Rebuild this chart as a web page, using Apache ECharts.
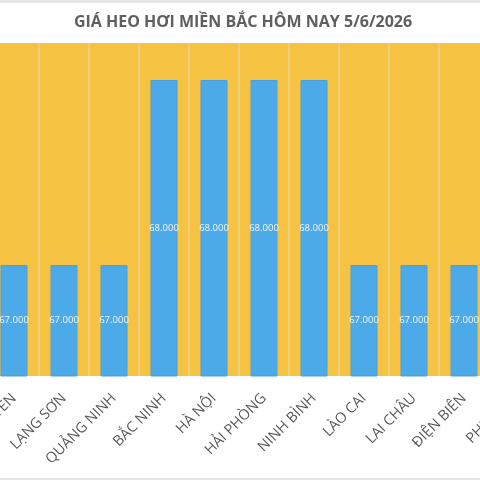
<!DOCTYPE html>
<html>
	<head>
		<meta charset="utf-8">
		<title></title>
		<style type="text/css">
			body{
				margin: 0;
				background: #ffffff;
				overflow: hidden;
			}
			#wrap{
				position: relative;
				width: 480px;
				height: 480px;
				overflow: hidden;
				border-top: 3px solid #e6e6e6;
				border-bottom: 2px solid #e6e6e6;
				box-sizing: border-box;
			}
			#main{
				position: absolute;
				left: -11px;
				top: -3px;
				width: 550px;
				height: 480px;
			}
		</style>
	</head>
	<body>
		<div id="wrap">
			<div id="main"></div>
		</div>
	</body>
<script src="https://cdn.jsdelivr.net/npm/echarts@6/dist/echarts.min.js" type="text/javascript" charset="utf-8"></script>
<script type="text/javascript">
	//tinh thanh (ca 2 dau bi cat boi khung hinh)
	var cities = ["THÁI NGUYÊN", "LẠNG SƠN", "QUẢNG NINH", "BẮC NINH", "HÀ NỘI", "HẢI PHÒNG",
		"NINH BÌNH", "LÀO CAI", "LAI CHÂU", "ĐIỆN BIÊN", "PHÚ THỌ"]
	//gia heo hoi (dong/kg)
	var prices = [67000, 67000, 67000, 68000, 68000, 68000, 68000, 67000, 67000, 67000, 67000]
	var yMin = 66400
	var yMax = 68200

	function fmt(v){
		//67000 -> "67.000"
		var s = String(v)
		return s.slice(0, s.length - 3) + "." + s.slice(s.length - 3)
	}

	var chartDom = document.getElementById('main');
	var myChart = echarts.init(chartDom);
	var option;

	option = {
		animation: false,
		title: {
			text: "GIÁ HEO HƠI MIỀN BẮC HÔM NAY 5/6/2026",
			left: 249,
			top: 9,
			textAlign: 'center',
			textStyle: {
				fontFamily: 'Open Sans',
				fontWeight: 'bold',
				fontSize: 16,
				color: '#5f5f5f'
			}
		},
		grid: {
			left: 0,
			right: 0,
			top: 43,
			bottom: 104,
			containLabel: false,
			outerBoundsMode: 'none',
			show: true,
			backgroundColor: '#F5C242',
			borderWidth: 0
		},
		xAxis: {
			type: 'category',
			data: cities,
			axisLine: { show: false },
			axisTick: { show: false },
			splitLine: {
				show: true,
				lineStyle: { color: '#EDD392', width: 1.5 }
			},
			axisLabel: {
				interval: 0,
				rotate: 45,
				margin: 20,
				fontFamily: 'Open Sans',
				fontSize: 14.5,
				color: '#595959'
			}
		},
		yAxis: {
			type: 'value',
			min: yMin,
			max: yMax,
			interval: 200,
			show: false,
			splitLine: { show: false }
		},
		series: [
			{
				type: 'bar',
				data: prices,
				barWidth: 27,
				itemStyle: {
					color: '#4DAAE8',
					borderColor: '#4A9FDD',
					borderWidth: 1
				},
				label: {
					show: true,
					position: 'inside',
					fontFamily: 'Open Sans',
					fontSize: 9.5,
					color: '#F2F7FC',
					formatter: function(p){ return fmt(p.value) }
				}
			}
		]
	};

	option && myChart.setOption(option);
</script>
</html>
